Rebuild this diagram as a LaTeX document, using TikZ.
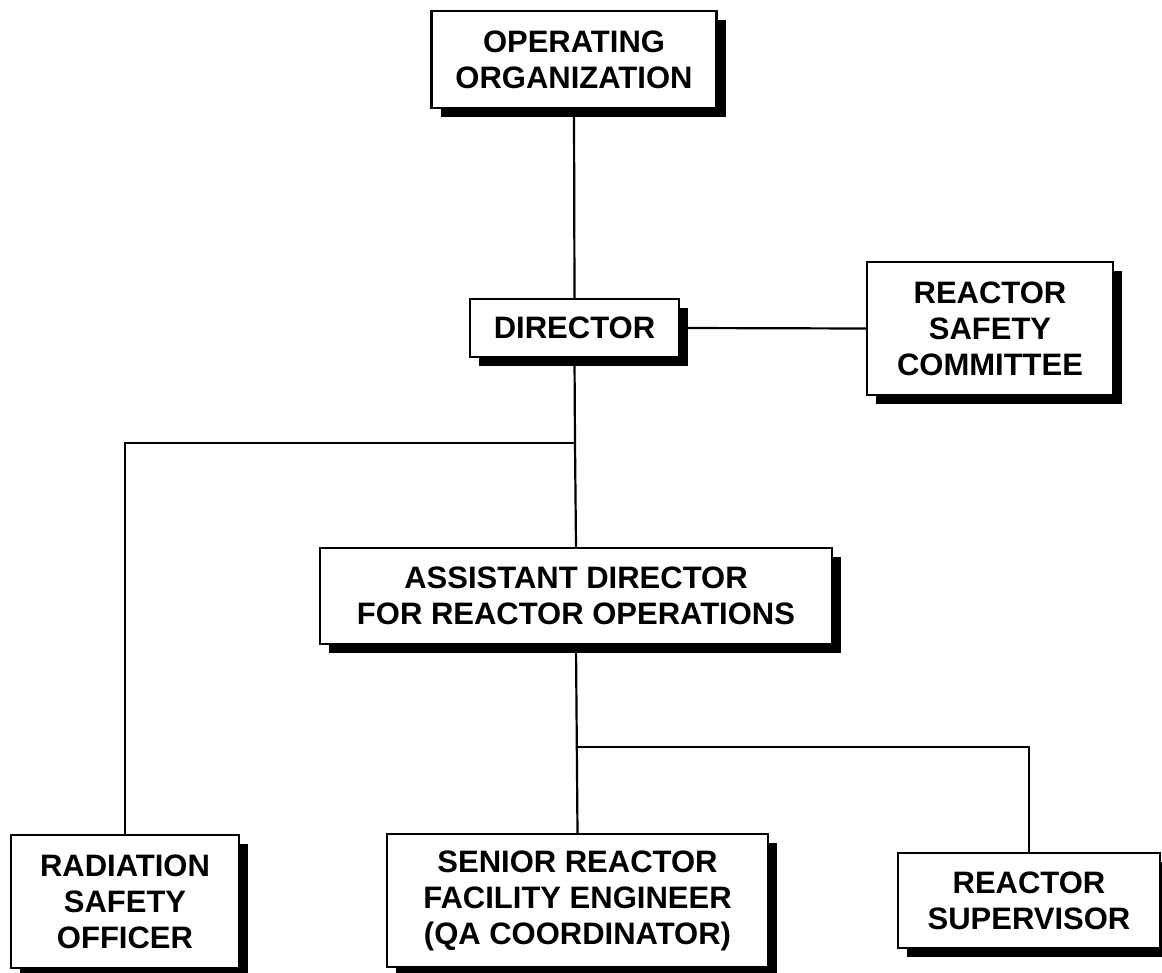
\documentclass[tikz,border=0pt]{standalone}
\usepackage{fontspec}
\setmainfont{Liberation Sans}
\usetikzlibrary{shadows}
\begin{document}
\begin{tikzpicture}[x=1pt,y=-1pt,
  unit/.style={draw,line width=2.2pt,fill=white,align=center,inner sep=0pt,
    font=\fontsize{31}{36}\selectfont\bfseries,
    drop shadow={shadow xshift=9pt,shadow yshift=-9pt,fill=black,opacity=1}},
  link/.style={line width=2.2pt}]
\useasboundingbox (0,0) rectangle (1162,973);
%boxes
\node[unit,minimum width=285pt,minimum height=97pt] (oporg) at (574,59.5) {OPERATING\\ORGANIZATION};
\node[unit,minimum width=209pt,minimum height=58pt] (director) at (574.5,328) {DIRECTOR};
\node[unit,minimum width=246pt,minimum height=133pt] (rsc) at (990,328.5) {REACTOR\\SAFETY\\COMMITTEE};
\node[unit,minimum width=512pt,minimum height=96pt] (asst) at (576,596) {ASSISTANT DIRECTOR\\FOR REACTOR OPERATIONS};
\node[unit,minimum width=228pt,minimum height=133pt] (rso) at (125,901.5) {RADIATION\\SAFETY\\OFFICER};
\node[unit,minimum width=381pt,minimum height=133pt] (srfe) at (577.5,900.5) {SENIOR REACTOR\\FACILITY ENGINEER\\(QA COORDINATOR)};
\node[unit,minimum width=262pt,minimum height=95pt] (rsup) at (1029,900.5) {REACTOR\\SUPERVISOR};
%branch points
\coordinate (split) at (575,443);
\coordinate (subsplit) at (577.5,747);
%lines
\draw[link] (oporg.south) -- (director.north);
\draw[link] (director.east) -- (rsc.west);
\draw[link] (director.south) -- (split) -- (asst.north);
\draw[link] (split) -| (rso.north);
\draw[link] (asst.south) -- (srfe.north);
\draw[link] (subsplit) -| (rsup.north);
\end{tikzpicture}
\end{document}
